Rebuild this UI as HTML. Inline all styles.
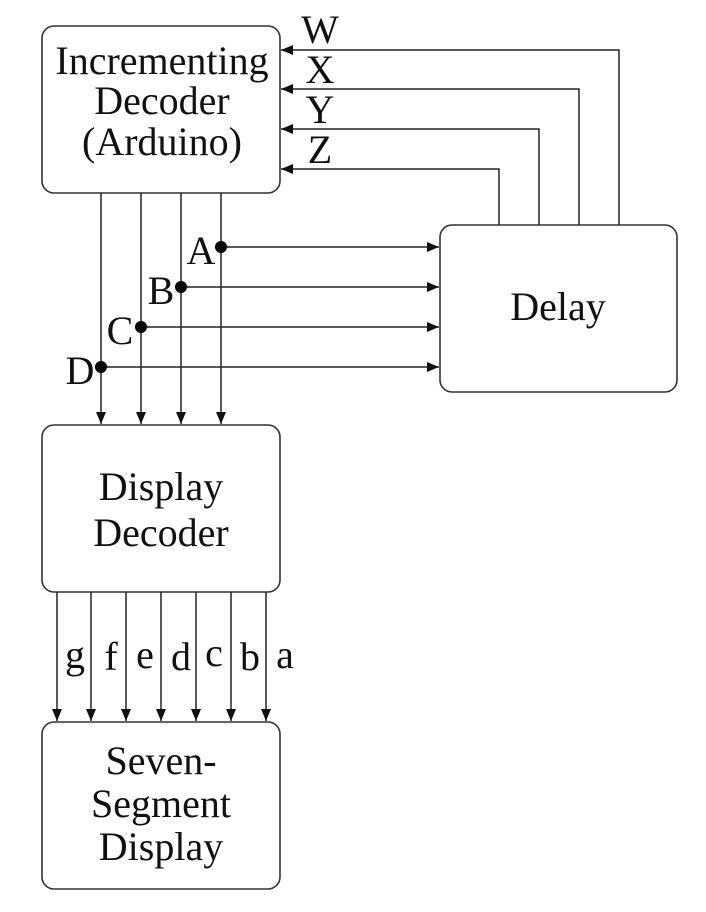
<!DOCTYPE html>
<html><head><style>body{margin:0;background:#fff}svg text{font-family:"Liberation Serif",serif;font-size:40px;fill:#111}</style></head><body>
<svg width="706" height="907" viewBox="0 0 706 907" xmlns="http://www.w3.org/2000/svg">
<defs><marker id="a" markerWidth="12" markerHeight="10" refX="12" refY="5" orient="auto" markerUnits="userSpaceOnUse"><path d="M0,0 L12,5 L0,10 z" fill="#111"/></marker></defs>
<g fill="none" stroke="#333" stroke-width="1.6">
<rect x="42" y="26" width="238" height="167" rx="12"/>
<rect x="42" y="425" width="238" height="167" rx="12"/>
<rect x="42" y="722" width="238" height="167" rx="12"/>
<rect x="440" y="225" width="237" height="167" rx="12"/>
</g>
<g stroke="#222" stroke-width="1.5" fill="none" marker-end="url(#a)">
<path d="M101 193V424"/><path d="M141 193V424"/><path d="M181 193V424"/><path d="M221 193V424"/>
<path d="M221 247H439"/><path d="M181 287H439"/><path d="M141 327H439"/><path d="M101 367H439"/>
<path d="M619 225V50H281"/><path d="M579 225V89H281"/><path d="M539 225V129H281"/><path d="M499 225V169H281"/>
<path d="M57 592V721"/><path d="M91 592V721"/><path d="M126 592V721"/><path d="M161 592V721"/><path d="M196 592V721"/><path d="M231 592V721"/><path d="M266 592V721"/>
</g>
<g fill="#000"><circle cx="221" cy="247" r="6"/><circle cx="181" cy="287" r="6"/><circle cx="141" cy="327" r="6"/><circle cx="101" cy="367" r="6"/></g>
<g text-anchor="middle">
<text x="162" y="74">Incrementing</text><text x="162" y="114">Decoder</text><text x="162" y="155">(Arduino)</text>
<text x="161" y="500">Display</text><text x="161" y="546">Decoder</text>
<text x="161" y="774">Seven-</text><text x="161" y="817">Segment</text><text x="161" y="860">Display</text>
<text x="558" y="320">Delay</text>
<text x="320" y="43">W</text><text x="320" y="83">X</text><text x="320" y="123">Y</text><text x="320" y="163">Z</text>
<text x="201" y="264">A</text><text x="161" y="304">B</text><text x="120" y="344">C</text><text x="80" y="384">D</text>
<text x="75" y="668">g</text><text x="111" y="670">f</text><text x="145" y="668">e</text><text x="181" y="670">d</text><text x="214" y="666">c</text><text x="250" y="670">b</text><text x="285" y="668">a</text>
</g>
</svg>
</body></html>
